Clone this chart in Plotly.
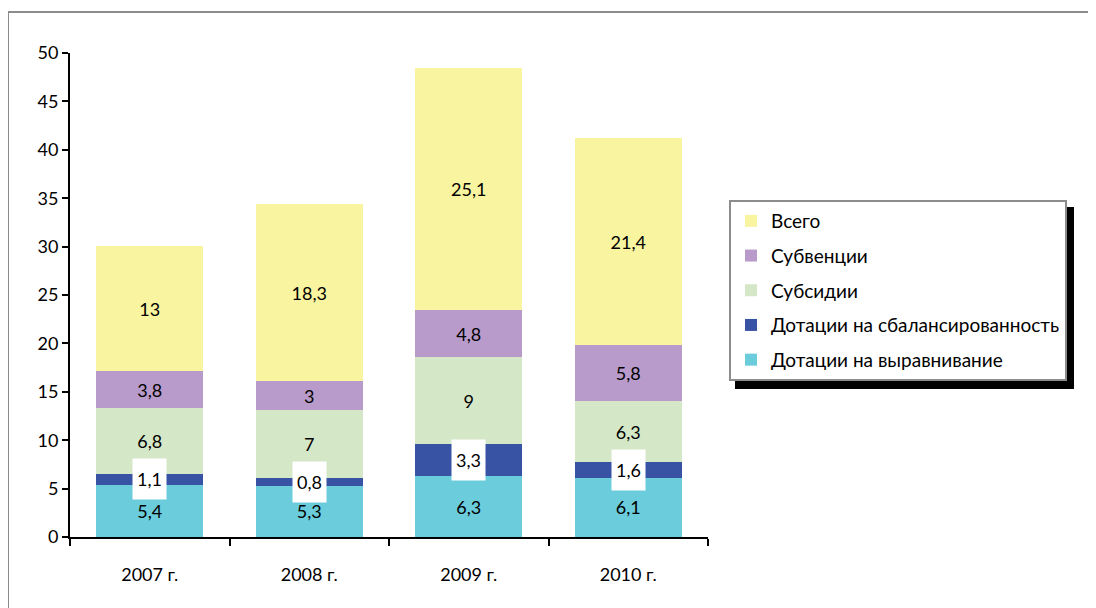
import plotly.graph_objects as go

years = ["2007 г.", "2008 г.", "2009 г.", "2010 г."]
equal = [5.4, 5.3, 6.3, 6.1]
balance = [1.1, 0.8, 3.3, 1.6]
subsidies = [6.8, 7, 9, 6.3]
subventions = [3.8, 3, 4.8, 5.8]
total = [13, 18.3, 25.1, 21.4]

names = ["Дотации на выравнивание", "Дотации на сбалансированность", "Субсидии", "Субвенции", "Всего"]
colors = ["#6BCCDB", "#3953A4", "#D4E7C7", "#B89BCA", "#F8F49F"]
series = [equal, balance, subsidies, subventions, total]

def fmt(v):
    s = ("%g" % v)
    return s.replace(".", ",")

FONT = "Lato"
LBL = 18
fig = go.Figure()
for i, (nm, col, vals) in enumerate(zip(names, colors, series)):
    txt = [fmt(v) for v in vals] if i != 1 else None
    fig.add_trace(go.Bar(
        x=years, y=vals, name=nm, marker=dict(color=col, line=dict(width=0)),
        text=txt, textposition="inside" if txt else "none", insidetextanchor="middle",
        textangle=0, constraintext="none",
        textfont=dict(family=FONT, size=LBL, color="black"),
        legendgroup=nm, legendrank=10 - i, hoverinfo="skip",
    ))

annotations = []
for k, yr in enumerate(years):
    mid = equal[k] + balance[k] / 2
    annotations.append(dict(x=yr, y=mid, xref="x", yref="y", text=fmt(balance[k]),
                            showarrow=False, bgcolor="white", width=33, height=40,
                            borderpad=0, font=dict(family=FONT, size=LBL, color="black")))

# page is shifted by 8px body margin
OFF = 8
L, R, T, B = 70 - OFF, 1096 - (708 - OFF), 53 - OFF, 608 - (537 - OFF)
W, H = 1096, 608
pw, ph = W - L - R, H - T - B
def px(x):
    return (x - OFF - L) / pw
def py(y):
    return (H - B - (y - OFF)) / ph

shapes = [
    dict(type="rect", xref="paper", yref="paper", x0=px(8), x1=px(1120), y0=py(12), y1=py(640),
         line=dict(color="#8C8C8C", width=2), fillcolor="rgba(0,0,0,0)", layer="below"),
    dict(type="rect", xref="paper", yref="paper", x0=px(735), x1=px(1074), y0=py(207), y1=py(389),
         line=dict(width=0), fillcolor="black", layer="above"),
]

fig.update_layout(
    width=W, height=H, barmode="stack", bargap=0.33,
    margin=dict(l=L, r=R, t=T, b=B),
    paper_bgcolor="white", plot_bgcolor="white",
    font=dict(family=FONT, size=LBL, color="black"),
    showlegend=True,
    legend=dict(x=px(729), y=py(200), xanchor="left", yanchor="top",
                traceorder="grouped", tracegroupgap=7,
                bgcolor="white", bordercolor="#8C8C8C", borderwidth=2,
                font=dict(family=FONT, size=19, color="black")),
    xaxis=dict(showline=True, linecolor="black", linewidth=2, ticks="outside", tickson="boundaries",
               ticklen=7, tickwidth=2, tickcolor="black", showgrid=False, ticklabelstandoff=20,
               tickfont=dict(family=FONT, size=LBL)),
    yaxis=dict(range=[0, 50], dtick=5, showline=True, linecolor="black", linewidth=2, ticks="outside",
               ticklen=6, tickwidth=2, tickcolor="black", showgrid=False, zeroline=False,
               tickfont=dict(family=FONT, size=LBL)),
    annotations=annotations, shapes=shapes,
)
fig.write_html("out.html")
